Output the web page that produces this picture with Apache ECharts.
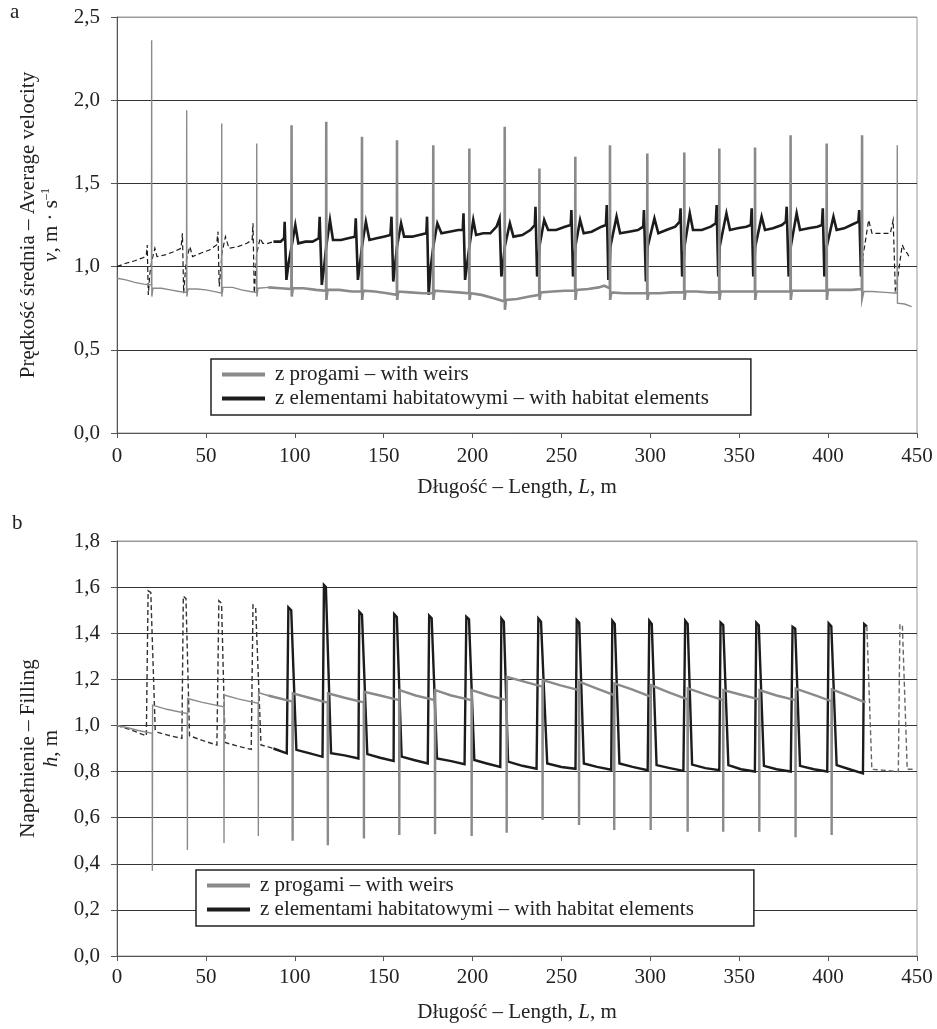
<!DOCTYPE html>
<html>
<head>
<meta charset="utf-8">
<script src="https://cdn.jsdelivr.net/npm/echarts@6/dist/echarts.min.js"></script>
<style>
  html, body { margin: 0; padding: 0; background: #fff; }
  #chart { width: 937px; height: 1029px; }
</style>
</head>
<body>
<div id="chart"></div>
<script>
// osie
const xTicks = [0, 50, 100, 150, 200, 250, 300, 350, 400, 450]
const velTicks = [0, 0.5, 1.0, 1.5, 2.0, 2.5]
const fillTicks = [0, 0.2, 0.4, 0.6, 0.8, 1.0, 1.2, 1.4, 1.6, 1.8]

const nameWeirs = 'z progami – with weirs'
const nameHabitat = 'z elementami habitatowymi – with habitat elements'

// a) predkosc - z progami [L, v]
const velWeirsStart = [
  [0, 0.93], [5, 0.92], [10, 0.905], [15, 0.895], [19.4, 0.89], [19.5, 2.36], [19.6, 0.82], [20.2, 0.87],
  [25, 0.87], [30, 0.86], [35, 0.85], [39.1, 0.845], [39.2, 1.94], [39.3, 0.82], [39.9, 0.865],
  [45, 0.865], [50, 0.86], [55, 0.85], [58.8, 0.84], [58.9, 1.86], [59, 0.82], [59.6, 0.875],
  [65, 0.875], [70, 0.86], [75, 0.85], [78.5, 0.845], [78.6, 1.74], [78.7, 0.82], [79.3, 0.87], [85, 0.875]
]
const velWeirsMain = [
  [85, 0.875], [92, 0.87], [98.1, 0.865], [98.2, 1.85], [98.3, 0.82], [98.9, 0.87], [105, 0.87], [112, 0.86],
  [117.6, 0.855], [117.7, 1.87], [117.8, 0.80], [118.4, 0.86], [125, 0.86], [132, 0.85],
  [137.7, 0.85], [137.8, 1.78], [137.9, 0.80], [138.5, 0.855], [145, 0.85], [152, 0.84],
  [157.4, 0.83], [157.5, 1.76], [157.6, 0.80], [158.2, 0.85], [165, 0.845], [172, 0.84],
  [177.8, 0.84], [177.9, 1.73], [178, 0.80], [178.6, 0.855], [185, 0.85], [192, 0.845],
  [198.1, 0.84], [198.2, 1.71], [198.3, 0.80], [198.9, 0.84], [205, 0.83], [212, 0.81],
  [218, 0.79], [218.1, 1.84], [218.2, 0.74], [218.8, 0.80], [225, 0.805], [232, 0.82],
  [237.5, 0.83], [237.6, 1.59], [237.7, 0.80], [238.3, 0.845], [245, 0.85], [252, 0.855],
  [257.7, 0.855], [257.8, 1.66], [257.9, 0.80], [258.5, 0.86], [265, 0.865], [271, 0.875], [274, 0.885],
  [277.2, 0.87], [277.3, 1.73], [277.4, 0.80], [278, 0.845], [285, 0.84], [292, 0.84],
  [298.2, 0.84], [298.3, 1.68], [298.4, 0.80], [299, 0.84], [305, 0.84], [312, 0.845],
  [319, 0.845], [319.1, 1.685], [319.2, 0.80], [319.8, 0.85], [326, 0.85], [333, 0.845],
  [338.7, 0.845], [338.8, 1.71], [338.9, 0.80], [339.5, 0.85], [346, 0.85], [353, 0.85],
  [358.8, 0.85], [358.9, 1.715], [359, 0.80], [359.6, 0.85], [366, 0.85], [373, 0.85],
  [378.8, 0.85], [378.9, 1.79], [379, 0.80], [379.6, 0.855], [386, 0.855], [393, 0.855],
  [399.1, 0.855], [399.2, 1.74], [399.3, 0.80], [399.9, 0.86], [406, 0.86], [413, 0.86],
  [419, 0.865], [419.1, 1.79], [419.2, 0.82], [419.8, 0.85]
]
const velWeirsEnd = [
  [419.8, 0.85], [425, 0.85], [432, 0.845], [438.8, 0.84], [438.9, 1.73], [439, 0.78], [439.6, 0.79],
  [443, 0.775], [447, 0.76]
]

// a) predkosc - z elementami habitatowymi [L, v]
const velHabitatStart = [
  [0, 1.0], [5, 1.02], [10, 1.035], [15, 1.055], [16.5, 1.07], [17, 1.13], [17.6, 0.83], [18.5, 0.96],
  [19.5, 1.03], [21.3, 1.11], [22.5, 1.06], [27, 1.07], [32, 1.09], [36, 1.11], [36.8, 1.20], [37.5, 0.84],
  [38.5, 0.98], [39.2, 1.05], [41, 1.12], [42.5, 1.06], [47, 1.08], [52, 1.10], [56, 1.13], [56.8, 1.21],
  [57.5, 0.88], [58.5, 1.0], [59, 1.08], [61, 1.18], [63, 1.11], [68, 1.12], [73, 1.14], [76, 1.16],
  [76.5, 1.26], [77.2, 0.84], [78, 0.98], [78.6, 1.08], [80.5, 1.17], [82, 1.14], [85, 1.14], [88, 1.15]
]
const velHabitatMain = [
  [88, 1.15], [92, 1.15], [94, 1.17], [94.3, 1.27], [95.3, 0.92], [96.5, 1.02], [98.2, 1.12], [100.3, 1.25],
  [102, 1.14], [106, 1.15], [110, 1.15], [113.5, 1.17], [114, 1.30], [115.2, 0.89], [116.5, 1.0],
  [117.7, 1.12], [119.8, 1.28], [121.5, 1.16], [126, 1.16], [130, 1.17], [133.8, 1.18], [134.3, 1.29],
  [135.5, 0.92], [136.7, 1.02], [137.8, 1.12], [140, 1.27], [142, 1.16], [146, 1.17], [150, 1.18],
  [153.8, 1.19], [154.4, 1.30], [155.4, 0.91], [156.5, 1.02], [157.5, 1.12], [159.8, 1.26], [161.5, 1.18],
  [166, 1.18], [170, 1.19], [174, 1.20], [174.4, 1.30], [175.3, 0.83], [176.5, 1.0], [177.9, 1.12],
  [180.2, 1.26], [182.5, 1.20], [187, 1.21], [192, 1.22], [194.5, 1.22], [194.9, 1.32], [195.8, 0.92],
  [197, 1.02], [198.2, 1.12], [200.4, 1.28], [202, 1.19], [206, 1.20], [210, 1.20], [213.5, 1.24],
  [215.2, 1.29], [216.2, 0.94], [217.2, 1.02], [218.1, 1.12], [221, 1.26], [223, 1.18], [228, 1.19],
  [232.5, 1.22], [235, 1.25], [235.4, 1.36], [236.3, 0.94], [237.2, 1.03], [237.6, 1.12], [240.3, 1.28],
  [242.5, 1.22], [247, 1.22], [252, 1.24], [255.2, 1.25], [255.6, 1.34], [256.5, 0.94], [257.5, 1.03],
  [257.8, 1.12], [260.5, 1.28], [262.5, 1.20], [267, 1.21], [272.5, 1.24], [275, 1.25], [275.5, 1.37],
  [276.4, 0.92], [277.2, 1.02], [277.5, 1.12], [281, 1.30], [283, 1.20], [288, 1.21], [293, 1.22],
  [296, 1.24], [296.4, 1.34], [297.5, 0.91], [298.2, 1.03], [298.5, 1.12], [302.3, 1.29], [304.5, 1.20],
  [309, 1.22], [314, 1.24], [316.5, 1.27], [317, 1.35], [317.9, 0.94], [318.8, 1.03], [319.2, 1.12],
  [322.2, 1.32], [324, 1.22], [329, 1.22], [334, 1.24], [336.8, 1.26], [337.3, 1.37], [338.2, 0.94],
  [338.8, 1.03], [339, 1.12], [342.8, 1.32], [344.8, 1.22], [349, 1.23], [354, 1.24], [356.5, 1.25],
  [357, 1.35], [357.9, 0.94], [358.6, 1.03], [359, 1.12], [362.6, 1.30], [364.5, 1.22], [369, 1.23],
  [374, 1.25], [376.2, 1.27], [376.7, 1.36], [377.8, 0.94], [378.6, 1.03], [379, 1.12], [382.3, 1.32],
  [384.2, 1.22], [389, 1.23], [394, 1.24], [396.5, 1.25], [397, 1.35], [397.9, 0.94], [398.8, 1.03],
  [399.2, 1.12], [403, 1.30], [404.8, 1.22], [409, 1.23], [413, 1.25], [417, 1.27], [417.5, 1.34],
  [418.5, 0.94], [419.3, 1.05]
]
const velHabitatEnd = [
  [419.3, 1.05], [420.5, 1.12], [422.8, 1.28], [424.7, 1.20], [430, 1.20], [435, 1.20], [436.6, 1.28],
  [437.8, 0.86], [438.8, 0.90], [440, 1.0], [441.7, 1.13], [443, 1.10], [444.5, 1.08], [446, 1.05]
]

// b) napelnienie - z progami [L, h]
const fillWeirsStart = [
  [0, 1.0], [6, 0.99], [12, 0.978], [19.8, 0.966], [19.9, 0.37], [20, 1.088], [28, 1.07],
  [39.5, 1.052], [39.6, 0.46], [39.7, 1.117], [48, 1.10], [60.1, 1.081], [60.2, 0.49], [60.3, 1.132],
  [68, 1.115], [79.4, 1.096], [79.5, 0.52], [79.6, 1.142], [85, 1.13]
]
const fillWeirsMain = [
  [85, 1.13], [98.7, 1.103], [98.8, 0.50], [98.9, 1.139], [108, 1.12], [118.5, 1.099], [118.6, 0.48],
  [118.7, 1.139], [128, 1.12], [138.8, 1.10], [138.9, 0.51], [139, 1.146], [148, 1.13], [158.7, 1.11],
  [158.8, 0.525], [158.9, 1.153], [168, 1.13], [178.8, 1.11], [178.9, 0.528], [179, 1.153], [188, 1.13],
  [199.4, 1.11], [199.5, 0.52], [199.6, 1.153], [209, 1.13], [219.1, 1.11], [219.2, 0.535], [219.3, 1.211],
  [229, 1.19], [239.3, 1.168], [239.4, 0.59], [239.5, 1.197], [249, 1.175], [259.8, 1.153], [259.9, 0.568],
  [260, 1.19], [270, 1.16], [279.6, 1.132], [279.7, 0.546], [279.8, 1.182], [290, 1.155], [300.1, 1.125],
  [300.2, 0.546], [300.3, 1.175], [310, 1.145], [320.9, 1.113], [321, 0.539], [321.1, 1.161], [331, 1.135],
  [340.9, 1.11], [341, 0.539], [341.1, 1.153], [351, 1.133], [361.2, 1.113], [361.3, 0.539], [361.4, 1.153],
  [371, 1.13], [381.6, 1.11], [381.7, 0.515], [381.8, 1.16], [392, 1.133], [401.9, 1.105], [402, 0.525],
  [402.1, 1.156], [411, 1.13], [421, 1.10]
]

// b) napelnienie - z elementami habitatowymi [L, h]
const fillHabitatStart = [
  [0, 1.0], [8, 0.98], [16.5, 0.955], [17.5, 1.584], [19, 1.577], [21.5, 0.98], [23, 0.97], [30, 0.955],
  [36.5, 0.944], [37.3, 1.561], [38.8, 1.55], [40.8, 0.955], [48, 0.935], [56.2, 0.915], [57.3, 1.541],
  [58.8, 1.53], [60.8, 0.926], [68, 0.91], [75.5, 0.896], [76.5, 1.522], [78, 1.51], [81, 0.915],
  [85, 0.907], [88, 0.9]
]
const fillHabitatMain = [
  [88, 0.9], [95.5, 0.879], [96.4, 1.512], [98, 1.5], [100.9, 0.894], [108, 0.88], [115.6, 0.864],
  [116.4, 1.609], [117.5, 1.60], [120.4, 0.88], [128, 0.87], [135.8, 0.857], [136.3, 1.493], [137.8, 1.48],
  [140.8, 0.876], [148, 0.86], [155.6, 0.846], [155.9, 1.483], [157.4, 1.47], [160.1, 0.865], [167, 0.85],
  [174.8, 0.835], [175.6, 1.476], [177, 1.465], [180, 0.857], [188, 0.845], [195.5, 0.832], [196.5, 1.471],
  [198, 1.46], [201, 0.85], [208, 0.835], [215.6, 0.82], [216.2, 1.464], [217.6, 1.45], [220, 0.843],
  [228, 0.825], [236, 0.812], [237, 1.464], [238.5, 1.45], [242, 0.835], [250, 0.82], [257.9, 0.812],
  [258.6, 1.457], [260, 1.445], [262.6, 0.835], [270, 0.82], [278, 0.808], [278.6, 1.454], [280, 1.44],
  [282.6, 0.835], [290, 0.82], [298.5, 0.806], [299.4, 1.454], [300.8, 1.44], [303.5, 0.828], [311, 0.815],
  [318.6, 0.803], [319.6, 1.454], [321, 1.44], [323.5, 0.83], [331, 0.815], [338.8, 0.806], [339.5, 1.446],
  [341, 1.435], [343.9, 0.828], [351, 0.81], [358.8, 0.80], [359.6, 1.446], [361, 1.435], [363.9, 0.825],
  [371, 0.81], [379, 0.80], [380, 1.428], [381.5, 1.42], [384.2, 0.825], [392, 0.81], [399.5, 0.80],
  [400.3, 1.443], [401.8, 1.43], [404.8, 0.828], [412, 0.81], [419.6, 0.792], [420.3, 1.44], [421.8, 1.43]
]
const fillHabitatEnd = [
  [421.8, 1.43], [424.6, 0.81], [432, 0.805], [439.5, 0.80], [440.4, 1.44], [441.8, 1.43], [444.5, 0.81],
  [447.5, 0.81]
]

const GREY = '#8a8a8a'
const BLACK = '#1c1c1c'
const FONT = 'Liberation Serif'
const FS = 21

const chart = echarts.init(document.getElementById('chart'))

const decimal = v => v.toFixed(1).replace('.', ',')

// seria liniowa
function line (name, data, gi, color, width, dashed) {
  return {
    name: name,
    type: 'line',
    xAxisIndex: gi,
    yAxisIndex: gi,
    data: data,
    symbol: 'none',
    silent: true,
    lineStyle: { color: color, width: width, type: dashed ? [5, 3] : 'solid', join: 'miter' },
    itemStyle: { color: color },
    z: color === GREY ? 3 : 2
  }
}

function xAxis (gi, gap, margin) {
  return {
    type: 'value',
    gridIndex: gi,
    min: 0,
    max: 450,
    interval: 50,
    name: '{t|Długość – Length, }{i|L}{t|, m}',
    nameLocation: 'middle',
    nameGap: gap,
    nameTextStyle: {
      rich: {
        t: { fontFamily: FONT, fontSize: FS, color: '#222' },
        i: { fontFamily: FONT, fontSize: FS, color: '#222', fontStyle: 'italic' }
      }
    },
    axisLine: { onZero: false, lineStyle: { color: '#555', width: 1 } },
    axisTick: { show: true, length: 5, lineStyle: { color: '#555' } },
    axisLabel: { fontFamily: FONT, fontSize: FS, color: '#222', margin: margin },
    splitLine: { show: false }
  }
}

function yAxis (gi, min, max, interval, nTicks, name) {
  const colors = []
  for (let i = 0; i < nTicks; i++) colors.push(i === nTicks - 1 ? '#9a9a9a' : '#333')
  return {
    type: 'value',
    gridIndex: gi,
    min: min,
    max: max,
    interval: interval,
    name: name,
    nameLocation: 'middle',
    nameRotate: 90,
    nameGap: 45,
    nameTextStyle: {
      lineHeight: 23,
      rich: {
        t: { fontFamily: FONT, fontSize: FS, color: '#222', lineHeight: 23 },
        i: { fontFamily: FONT, fontSize: FS, color: '#222', fontStyle: 'italic', lineHeight: 23 },
        s: { fontFamily: FONT, fontSize: 12, color: '#222', verticalAlign: 'top', lineHeight: 13 }
      }
    },
    axisLine: { show: true, lineStyle: { color: '#555', width: 1 } },
    axisTick: { show: true, length: 6, lineStyle: { color: '#555' } },
    axisLabel: { fontFamily: FONT, fontSize: FS, color: '#222', margin: 17, formatter: decimal },
    splitLine: { show: true, lineStyle: { color: colors, width: 1 } }
  }
}

function legend (left, top, right) {
  return {
    left: left,
    top: top,
    orient: 'vertical',
    data: [
      { name: nameWeirs, icon: 'rect', itemStyle: { color: GREY } },
      { name: nameHabitat, icon: 'rect', itemStyle: { color: BLACK } }
    ],
    itemWidth: 43,
    itemHeight: 4,
    itemGap: 3,
    padding: [5, right, 6, 11],
    borderColor: '#222',
    borderWidth: 1.5,
    borderRadius: 0,
    backgroundColor: '#fff',
    selectedMode: false,
    textStyle: { fontFamily: FONT, fontSize: FS, color: '#222', padding: [0, 0, 0, 5] }
  }
}

const option = {
  animation: false,
  backgroundColor: '#fff',
  grid: [
    { left: 117, top: 17, width: 800, height: 416, show: true, borderColor: '#9a9a9a', borderWidth: 1 },
    { left: 117, top: 541, width: 800, height: 415, show: true, borderColor: '#9a9a9a', borderWidth: 1 }
  ],
  xAxis: [xAxis(0, 44, 13), xAxis(1, 46, 11)],
  yAxis: [
    yAxis(0, 0, 2.5, 0.5, velTicks.length, '{t|Prędkość średnia – Average velocity}\n{i|v}{t|, m · s}{s|–1}'),
    yAxis(1, 0, 1.8, 0.2, fillTicks.length, '{t|Napełnienie – Filling}\n{i|h}{t|, m}')
  ],
  legend: [legend(211, 359, 42), legend(196, 870, 60)],
  graphic: [
    { type: 'text', left: 10, top: 2, style: { text: 'a', fontFamily: FONT, fontSize: FS, fill: '#222' } },
    { type: 'text', left: 12, top: 513, style: { text: 'b', fontFamily: FONT, fontSize: FS, fill: '#222' } }
  ],
  series: [
    line(nameHabitat, velHabitatMain, 0, BLACK, 2.6, false),
    line(nameHabitat, velHabitatStart, 0, BLACK, 1.2, true),
    line(nameHabitat, velHabitatEnd, 0, BLACK, 1.2, true),
    line(nameWeirs, velWeirsMain, 0, GREY, 2.6, false),
    line(nameWeirs, velWeirsStart, 0, GREY, 1.4, false),
    line(nameWeirs, velWeirsEnd, 0, GREY, 1.4, false),
    line(nameHabitat, fillHabitatMain, 1, BLACK, 2.4, false),
    line(nameHabitat, fillHabitatStart, 1, '#333', 1.4, true),
    line(nameHabitat, fillHabitatEnd, 1, '#666', 1.4, true),
    line(nameWeirs, fillWeirsMain, 1, GREY, 2.4, false),
    line(nameWeirs, fillWeirsStart, 1, GREY, 1.4, false)
  ]
}

chart.setOption(option)
</script>
</body>
</html>
